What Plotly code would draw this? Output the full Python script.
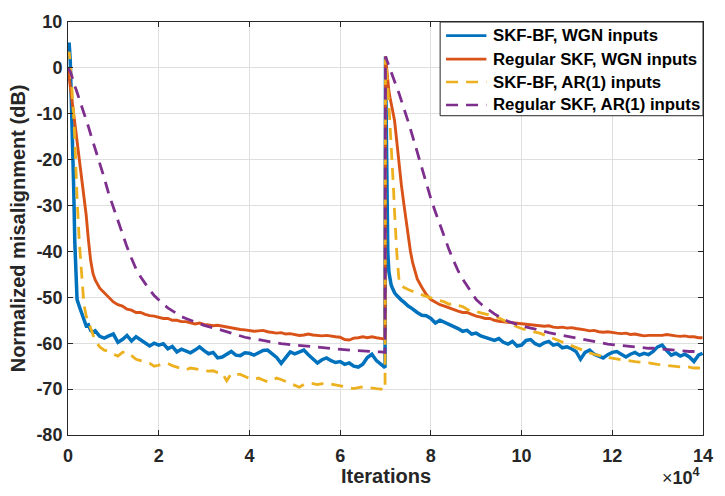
import plotly.graph_objects as go

# Sampling offsets (iterations) within each 70k-iteration segment
seg_offsets = [0, 250, 500, 750, 1000, 1250, 1500, 1750, 2000, 2500, 3000, 3500,
               4000, 4500, 5000, 5500, 6000] + list(range(7000, 70000, 1000)) + [69900]
iters = seg_offsets + [70000 + o for o in seg_offsets]

# Normalized misalignment (dB), first segment then second segment
skfbf_wgn_a = [3.5, 5.5, 1.5, -6.0, -15.0, -26.0, -38.0, -47.0, -50.5, -52.0, -53.6, -55.0, -56.2, -56.0, -57.2, -57.6, -57.3,
               -58.5, -58.9, -58.4, -58.0, -59.8, -59.2, -58.3, -59.5, -58.6, -59.2,
               -59.8, -60.6, -60.0, -60.4, -60.1, -61.2, -60.7, -61.9, -61.3, -61.7,
               -62.1, -61.5, -60.8, -61.6, -62.3, -62.0, -63.2, -63.0, -62.4, -61.8,
               -62.6, -62.7, -62.1, -62.2, -62.6, -62.0, -61.6, -61.5, -62.4, -63.1,
               -64.4, -63.0, -61.9, -62.3, -61.8, -61.5, -62.5, -63.4, -64.3, -63.6,
               -63.2, -63.8, -64.2, -64.0, -64.6, -64.3, -65.0, -65.2, -64.6, -63.1,
               -62.4, -63.8, -64.6, -65.3]
skfbf_wgn_b = [2.5, -18.0, -40.0, -44.5, -46.3, -47.3, -47.9, -48.5, -49.0, -49.6, -50.2, -50.6, -51.0, -51.5, -51.9, -52.2, -52.6,
               -53.3, -53.9, -54.0, -54.6, -55.6, -55.0, -55.4, -56.0, -56.4, -56.8,
               -57.4, -57.2, -58.0, -57.8, -58.4, -58.8, -59.0, -59.4, -59.0, -59.8,
               -60.2, -59.6, -60.6, -60.4, -59.4, -59.2, -60.1, -60.5, -59.9, -59.6,
               -60.4, -60.2, -61.0, -60.8, -61.2, -61.8, -63.5, -62.0, -61.5, -62.4,
               -62.8, -63.2, -62.5, -62.0, -61.8, -62.3, -63.0, -62.4, -62.0, -62.6,
               -62.2, -62.5, -61.8, -60.8, -60.4, -61.6, -62.6, -62.2, -62.8, -62.4,
               -63.0, -64.0, -62.6, -62.2]

reg_wgn_a = [0.0, -2.0, -4.0, -6.0, -8.0, -10.3, -12.5, -14.5, -16.5, -20.5, -24.0, -28.0, -32.0, -37.5, -42.0, -44.8, -46.2,
             -48.0, -49.0, -50.0, -51.0, -51.6, -51.9, -52.6, -52.8, -53.3, -53.3,
             -53.7, -54.0, -54.1, -54.3, -54.6, -54.6, -55.0, -55.0, -55.3, -55.3,
             -55.5, -55.8, -55.6, -55.9, -56.0, -56.2, -56.1, -56.3, -56.5, -56.6,
             -56.9, -57.0, -57.1, -57.2, -57.4, -57.3, -57.2, -57.5, -57.6, -57.8,
             -57.7, -58.0, -57.9, -58.1, -58.3, -58.2, -58.0, -58.2, -58.3, -58.4,
             -58.3, -58.5, -58.6, -58.7, -59.2, -59.3, -58.9, -58.8, -58.6, -58.8,
             -58.6, -58.8, -59.0, -59.1]
reg_wgn_b = [2.5, -0.5, -3.0, -5.0, -6.5, -8.0, -9.2, -10.2, -11.5, -16.5, -21.4, -25.5, -29.3, -33.0, -36.5, -40.0, -42.5,
             -46.0, -47.8, -49.4, -50.5, -51.0, -51.6, -51.9, -52.3, -52.6, -53.0,
             -53.3, -53.3, -53.7, -54.1, -54.3, -54.6, -54.6, -55.0, -55.2, -55.3,
             -55.5, -55.5, -55.7, -55.8, -55.9, -56.0, -56.0, -56.2, -56.3, -56.2,
             -56.5, -56.6, -56.5, -56.7, -56.6, -56.8, -56.9, -57.1, -57.3, -57.2,
             -57.5, -57.6, -57.5, -57.7, -57.8, -57.9, -57.8, -58.1, -58.0, -58.2,
             -58.4, -58.3, -58.3, -58.4, -58.3, -58.1, -58.3, -58.4, -58.5, -58.4,
             -58.6, -58.6, -58.8, -58.8]

skfbf_ar_a = [2.5, 3.5, 1.0, -2.5, -6.0, -10.5, -15.5, -23.0, -28.5, -38.0, -45.5, -51.5, -54.0, -55.5, -57.0, -58.3, -59.5,
              -60.8, -61.5, -61.8, -62.4, -62.8, -62.0, -61.9, -62.8, -63.5, -63.8,
              -64.1, -64.4, -65.0, -64.8, -64.4, -64.4, -64.9, -65.2, -65.5, -65.8,
              -65.4, -65.6, -65.8, -66.0, -66.1, -66.0, -66.4, -66.5, -68.2, -66.6,
              -66.8, -66.8, -67.3, -67.7, -67.9, -67.6, -68.0, -68.4, -68.2, -67.6,
              -67.9, -68.3, -68.8, -69.2, -69.6, -69.0, -68.7, -68.8, -69.0, -68.8,
              -69.0, -68.9, -69.1, -69.2, -69.4, -69.6, -69.9, -69.7, -69.5, -69.6,
              -69.8, -69.9, -70.0, -70.2]
skfbf_ar_b = [2.5, 0.0, -4.0, -8.0, -12.0, -16.0, -20.5, -26.0, -31.5, -40.5, -46.5, -47.5, -47.8, -48.1, -48.3, -48.5, -48.7,
              -49.1, -49.4, -49.8, -50.1, -50.4, -50.6, -51.0, -51.5, -51.4, -51.8,
              -52.0, -52.6, -53.2, -53.1, -53.4, -53.6, -53.9, -54.0, -54.5, -55.0,
              -55.5, -56.0, -56.4, -56.8, -57.1, -57.3, -57.6, -57.8, -58.2, -58.5,
              -59.0, -59.4, -59.8, -60.2, -60.6, -61.0, -61.4, -61.8, -62.1, -62.4,
              -62.7, -62.9, -63.1, -63.3, -63.5, -63.6, -63.7, -63.9, -64.0, -64.1,
              -64.3, -64.3, -64.5, -64.6, -64.7, -64.8, -64.9, -65.0, -65.1, -65.3,
              -65.2, -65.4, -65.4, -65.5]

reg_ar_a = [0.0, -0.3, -0.8, -1.5, -2.5, -3.2, -4.0, -4.6, -5.3, -6.8, -8.3, -9.7, -11.0, -12.8, -14.5, -16.0, -17.5,
            -20.5, -24.0, -27.5, -30.5, -33.0, -36.2, -39.0, -41.5, -43.8, -45.5,
            -47.1, -48.4, -49.6, -50.6, -51.5, -52.3, -53.0, -53.7, -54.2, -54.6,
            -55.0, -55.4, -55.8, -56.1, -56.4, -56.6, -56.9, -57.2, -57.5, -57.8,
            -58.2, -58.5, -58.7, -58.9, -59.0, -59.2, -59.4, -59.6, -59.8, -59.9,
            -60.1, -60.2, -60.3, -60.4, -60.5, -60.6, -60.7, -60.8, -60.9, -61.0,
            -61.1, -61.2, -61.3, -61.4, -61.5, -61.5, -61.6, -61.6, -61.7, -61.8,
            -61.8, -61.9, -61.9, -62.0]
reg_ar_b = [2.5, 1.8, 0.9, 0.2, -0.5, -1.2, -1.8, -2.5, -3.1, -4.3, -5.6, -7.0, -8.5, -10.2, -11.7, -13.3, -15.0,
            -18.6, -21.8, -25.2, -28.5, -31.4, -34.2, -37.0, -39.6, -42.0, -44.2,
            -46.0, -47.6, -49.2, -50.5, -51.4, -52.2, -53.0, -53.6, -54.2, -54.8,
            -55.2, -55.6, -55.9, -56.2, -56.5, -56.7, -56.9, -57.2, -57.4, -57.7,
            -57.9, -58.1, -58.3, -58.5, -58.7, -58.9, -59.1, -59.3, -59.5, -59.7,
            -59.9, -60.0, -60.2, -60.3, -60.4, -60.6, -60.7, -60.8, -60.9, -61.0,
            -61.0, -61.1, -61.1, -61.2, -61.3, -61.4, -61.5, -61.5, -61.6, -61.7,
            -61.8, -61.8, -61.9, -61.9]

x_tick_vals = [0, 20000, 40000, 60000, 80000, 100000, 120000, 140000]
x_tick_text = ["0", "2", "4", "6", "8", "10", "12", "14"]
y_tick_vals = [-80, -70, -60, -50, -40, -30, -20, -10, 0, 10]
y_tick_text = ["-80", "-70", "-60", "-50", "-40", "-30", "-20", "-10", "0", "10"]

DASH = "12px,8px"
series = [
    ("SKF-BF, WGN inputs", skfbf_wgn_a + skfbf_wgn_b, "#0072BD", "solid", 3.5),
    ("Regular SKF, WGN inputs", reg_wgn_a + reg_wgn_b, "#D95319", "solid", 2.9),
    ("SKF-BF, AR(1) inputs", skfbf_ar_a + skfbf_ar_b, "#EDB120", DASH, 2.8),
    ("Regular SKF, AR(1) inputs", reg_ar_a + reg_ar_b, "#7E2F8E", DASH, 2.8),
]

# Figure geometry (pixels)
W, H = 725, 496
L, R, T, B = 68, 12, 12, 61
PW, PH = W - L - R, H - T - B


def px_x(px):
    return (px - L) / PW


def px_y(py):
    return (H - B - py) / PH


fig = go.Figure()
for name, vals, color, dash, lw in series:
    fig.add_trace(go.Scatter(x=iters, y=vals, mode="lines", name=name, showlegend=False,
                             line=dict(color=color, width=lw, dash=dash)))

axis_common = dict(
    showgrid=True, gridcolor="#DFDFDF", gridwidth=1,
    showline=True, linecolor="#262626", linewidth=1, mirror="ticks",
    ticks="inside", ticklen=5, tickcolor="#262626",
    tickfont=dict(size=18, weight="bold", color="#262626"),
    zeroline=False,
)

fig.update_layout(
    width=W, height=H,
    margin=dict(l=L, r=R, t=T, b=B),
    paper_bgcolor="white", plot_bgcolor="white",
    font=dict(family="Liberation Sans, Arial, sans-serif", color="#262626"),
    xaxis=dict(range=[0, 140000], tickvals=x_tick_vals, ticktext=x_tick_text,
               ticklabelstandoff=4, **axis_common),
    yaxis=dict(range=[-80, 10], tickvals=y_tick_vals, ticktext=y_tick_text,
               ticklabelstandoff=1, **axis_common),
    showlegend=False,
)

# Axis titles
fig.add_annotation(text="<b>Iterations</b>", xref="paper", yref="paper",
                   x=0.5, y=px_y(477), xanchor="center", yanchor="middle",
                   showarrow=False, font=dict(size=20, color="#262626"))
fig.add_annotation(text="<b>Normalized misalignment (dB)</b>", xref="paper", yref="paper",
                   x=px_x(17), y=0.5, xanchor="center", yanchor="middle", textangle=-90,
                   showarrow=False, font=dict(size=20, color="#262626"))
# Axis exponent
fig.add_annotation(text="×<b>10<sup>4</sup></b>", xref="paper", yref="paper",
                   x=px_x(712), y=px_y(478), xanchor="right", yanchor="middle",
                   showarrow=False, font=dict(size=18, color="#262626"))

# Legend box with line samples and labels
box_x0, box_x1, box_y0, box_y1 = 446, 713, 12, 108
fig.add_shape(type="rect", xref="paper", yref="paper", layer="above",
              x0=px_x(box_x0), x1=px_x(box_x1), y0=px_y(box_y1), y1=px_y(box_y0),
              line=dict(color="#262626", width=1), fillcolor="white")
row_y = [26, 50, 73.5, 97]
for (name, _, color, dash, lw), ry in zip(series, row_y):
    fig.add_shape(type="line", xref="paper", yref="paper", layer="above",
                  x0=px_x(452), x1=px_x(493), y0=px_y(ry), y1=px_y(ry),
                  line=dict(color=color, width=2.6, dash=dash))
    fig.add_annotation(text="<b>" + name + "</b>", xref="paper", yref="paper",
                       x=px_x(498), y=px_y(ry), xanchor="left", yanchor="middle",
                       showarrow=False, font=dict(size=16.8, color="#000000"))

fig.write_html("out.html")
